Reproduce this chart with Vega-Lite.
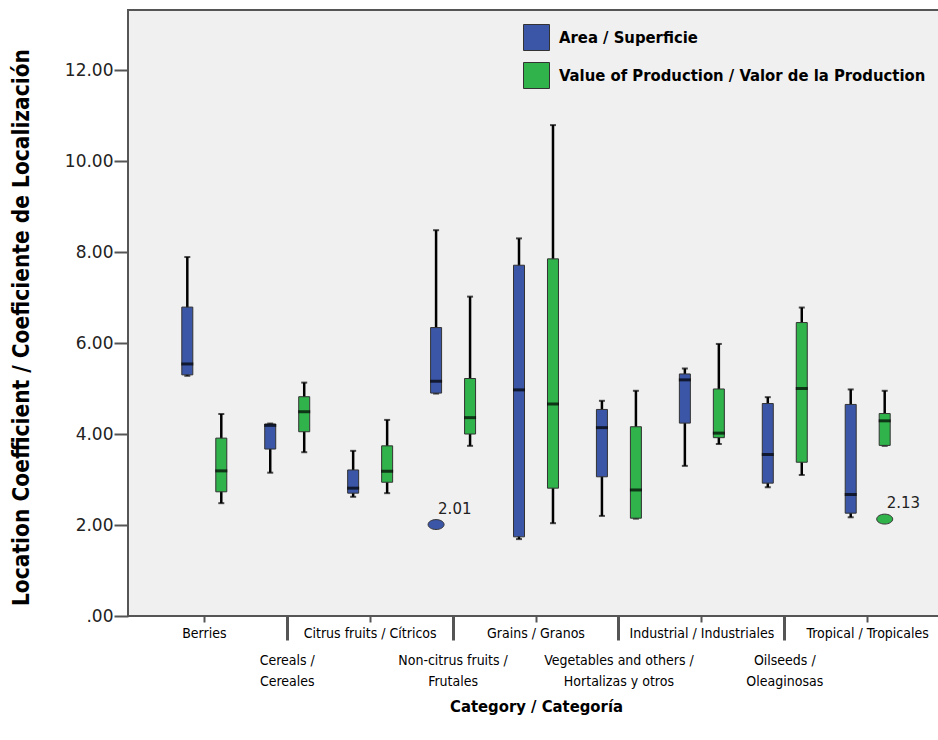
{
  "$schema": "https://vega.github.io/schema/vega-lite/v6.json",
  "width": 816,
  "height": 606,
  "autosize": {"type": "none"},
  "padding": {"left": 128, "top": 10, "right": 0, "bottom": 124},
  "background": "white",
  "config": {
    "view": {"fill": "#f0f0f0", "stroke": "#555555", "strokeWidth": 2},
    "font": "DejaVu Sans Condensed"
  },
  "datasets": {
    "boxes": [
      {"category": "Berries", "series": "Area / Superficie", "min": 5.28, "q1": 5.30, "median": 5.54, "q3": 6.79, "max": 7.89},
      {"category": "Berries", "series": "Value of Production / Valor de la Production", "min": 2.48, "q1": 2.73, "median": 3.19, "q3": 3.91, "max": 4.44},
      {"category": "Cereals / Cereales", "series": "Area / Superficie", "min": 3.15, "q1": 3.67, "median": 4.19, "q3": 4.22, "max": 4.23},
      {"category": "Cereals / Cereales", "series": "Value of Production / Valor de la Production", "min": 3.60, "q1": 4.05, "median": 4.49, "q3": 4.82, "max": 5.13},
      {"category": "Citrus fruits / Cítricos", "series": "Area / Superficie", "min": 2.62, "q1": 2.70, "median": 2.81, "q3": 3.21, "max": 3.63},
      {"category": "Citrus fruits / Cítricos", "series": "Value of Production / Valor de la Production", "min": 2.70, "q1": 2.94, "median": 3.18, "q3": 3.74, "max": 4.31},
      {"category": "Non-citrus fruits / Frutales", "series": "Area / Superficie", "min": 4.89, "q1": 4.90, "median": 5.16, "q3": 6.34, "max": 8.48},
      {"category": "Non-citrus fruits / Frutales", "series": "Value of Production / Valor de la Production", "min": 3.74, "q1": 4.00, "median": 4.36, "q3": 5.22, "max": 7.02},
      {"category": "Grains / Granos", "series": "Area / Superficie", "min": 1.69, "q1": 1.74, "median": 4.97, "q3": 7.71, "max": 8.30},
      {"category": "Grains / Granos", "series": "Value of Production / Valor de la Production", "min": 2.04, "q1": 2.81, "median": 4.66, "q3": 7.85, "max": 10.79},
      {"category": "Vegetables and others / Hortalizas y otros", "series": "Area / Superficie", "min": 2.20, "q1": 3.06, "median": 4.14, "q3": 4.54, "max": 4.73},
      {"category": "Vegetables and others / Hortalizas y otros", "series": "Value of Production / Valor de la Production", "min": 2.14, "q1": 2.15, "median": 2.77, "q3": 4.16, "max": 4.95},
      {"category": "Industrial / Industriales", "series": "Area / Superficie", "min": 3.30, "q1": 4.24, "median": 5.19, "q3": 5.32, "max": 5.44},
      {"category": "Industrial / Industriales", "series": "Value of Production / Valor de la Production", "min": 3.78, "q1": 3.92, "median": 4.02, "q3": 4.99, "max": 5.98},
      {"category": "Oilseeds / Oleaginosas", "series": "Area / Superficie", "min": 2.83, "q1": 2.92, "median": 3.55, "q3": 4.67, "max": 4.81},
      {"category": "Oilseeds / Oleaginosas", "series": "Value of Production / Valor de la Production", "min": 3.10, "q1": 3.38, "median": 5.00, "q3": 6.45, "max": 6.78},
      {"category": "Tropical / Tropicales", "series": "Area / Superficie", "min": 2.17, "q1": 2.26, "median": 2.67, "q3": 4.65, "max": 4.98},
      {"category": "Tropical / Tropicales", "series": "Value of Production / Valor de la Production", "min": 3.74, "q1": 3.75, "median": 4.29, "q3": 4.45, "max": 4.95}
    ],
    "outliers": [
      {"category": "Non-citrus fruits / Frutales", "series": "Area / Superficie", "value": 2.01, "label": "2.01"},
      {"category": "Tropical / Tropicales", "series": "Value of Production / Valor de la Production", "value": 2.13, "label": "2.13"}
    ]
  },
  "encoding": {
    "x": {
      "field": "category",
      "type": "nominal",
      "sort": ["Berries", "Cereals / Cereales", "Citrus fruits / Cítricos", "Non-citrus fruits / Frutales", "Grains / Granos", "Vegetables and others / Hortalizas y otros", "Industrial / Industriales", "Oilseeds / Oleaginosas", "Tropical / Tropicales"],
      "scale": {"paddingInner": 0, "paddingOuter": 0.42},
      "axis": {
        "title": "Category / Categoría",
        "titleFont": "DejaVu Sans Condensed",
        "titleFontSize": 16.5,
        "titleFontWeight": "bold",
        "titleColor": "#000000",
        "titlePadding": 10,
        "domain": false,
        "labelAngle": 0,
        "labelFont": "DejaVu Sans Condensed",
        "labelFontSize": 14,
        "labelColor": "#000000",
        "labelLineHeight": 21,
        "labelPadding": {"condition": {"test": "indexof(['Cereals / Cereales', 'Non-citrus fruits / Frutales', 'Vegetables and others / Hortalizas y otros', 'Oilseeds / Oleaginosas'], datum.value) >= 0", "value": 13}, "value": 4},
        "labelBaseline": "top",
        "labelExpr": "indexof(['Cereals / Cereales', 'Non-citrus fruits / Frutales', 'Vegetables and others / Hortalizas y otros', 'Oilseeds / Oleaginosas'], datum.label) >= 0 ? [split(datum.label, ' / ')[0] + ' /', split(datum.label, ' / ')[1]] : datum.label",
        "tickColor": "#555555",
        "tickSize": {"condition": {"test": "indexof(['Cereals / Cereales', 'Non-citrus fruits / Frutales', 'Vegetables and others / Hortalizas y otros', 'Oilseeds / Oleaginosas'], datum.value) >= 0", "value": 24}, "value": 6},
        "tickWidth": {"condition": {"test": "indexof(['Cereals / Cereales', 'Non-citrus fruits / Frutales', 'Vegetables and others / Hortalizas y otros', 'Oilseeds / Oleaginosas'], datum.value) >= 0", "value": 3}, "value": 2}
      }
    },
    "xOffset": {
      "field": "series",
      "type": "nominal",
      "sort": ["Area / Superficie", "Value of Production / Valor de la Production"],
      "scale": {"paddingInner": 0, "paddingOuter": 0.22}
    }
  },
  "layer": [
    {
      "data": {"name": "boxes"},
      "mark": {"type": "rule", "color": "#000000", "strokeWidth": 2.5},
      "encoding": {
        "y": {"field": "min", "type": "quantitative", "scale": {"domain": [0, 13.32], "nice": false, "zero": true},
          "axis": {
            "title": "Location Coefficient / Coeficiente de Localización",
            "titleFont": "DejaVu Sans Condensed",
            "titleFontSize": 22.5,
            "titleFontWeight": "bold",
            "titleColor": "#000000",
            "titleX": -107,
            "titleY": 317,
            "titleAlign": "center",
            "titleBaseline": "middle",
            "titleAngle": -90,
            "values": [0, 2, 4, 6, 8, 10, 12],
            "labelExpr": "datum.value == 0 ? '.00' : format(datum.value, '.2f')",
            "labelFont": "DejaVu Sans",
            "labelFontSize": 17,
            "labelColor": "#222222",
            "labelPadding": 1,
            "domain": false,
            "grid": false,
            "tickColor": "#555555",
            "tickSize": 14,
            "tickWidth": 2
          }
        },
        "y2": {"field": "max"}
      }
    },
    {
      "data": {"name": "boxes"},
      "mark": {"type": "tick", "color": "#000000", "size": 6, "thickness": 2, "orient": "horizontal"},
      "encoding": {"y": {"field": "min", "type": "quantitative"}}
    },
    {
      "data": {"name": "boxes"},
      "mark": {"type": "tick", "color": "#000000", "size": 6, "thickness": 2, "orient": "horizontal"},
      "encoding": {"y": {"field": "max", "type": "quantitative"}}
    },
    {
      "data": {"name": "boxes"},
      "mark": {"type": "bar", "size": 11, "stroke": "#333333", "strokeWidth": 1},
      "encoding": {
        "y": {"field": "q1", "type": "quantitative"},
        "y2": {"field": "q3"},
        "fill": {
          "field": "series",
          "type": "nominal",
          "scale": {"domain": ["Area / Superficie", "Value of Production / Valor de la Production"], "range": ["#3b56a6", "#2fb34a"]},
          "legend": {
            "title": null,
            "orient": "none",
            "legendX": 395,
            "legendY": 14,
            "symbolType": "square",
            "symbolSize": 676,
            "symbolStrokeColor": "#333333",
            "symbolStrokeWidth": 1,
            "symbolOpacity": 1,
            "labelFont": "DejaVu Sans Condensed",
            "labelFontSize": 16.5,
            "labelFontWeight": "bold",
            "labelColor": "#000000",
            "labelOffset": 9,
            "rowPadding": 7,
            "labelLimit": 500
          }
        }
      }
    },
    {
      "data": {"name": "boxes"},
      "mark": {"type": "tick", "color": "#000000", "size": 12, "thickness": 3, "orient": "horizontal"},
      "encoding": {"y": {"field": "median", "type": "quantitative"}}
    },
    {
      "data": {"name": "outliers"},
      "mark": {"type": "point", "shape": "M -1 0 A 1 0.62 0 1 1 1 0 A 1 0.62 0 1 1 -1 0 Z", "size": 256, "filled": true, "stroke": "#333333", "strokeWidth": 1, "opacity": 1},
      "encoding": {
        "y": {"field": "value", "type": "quantitative"},
        "fill": {"field": "series", "type": "nominal"}
      }
    },
    {
      "data": {"name": "outliers"},
      "mark": {"type": "text", "font": "DejaVu Sans", "fontSize": 15, "color": "#222222", "align": "left", "baseline": "middle", "dx": 2, "dy": -16},
      "encoding": {
        "y": {"field": "value", "type": "quantitative"},
        "text": {"field": "label"}
      }
    }
  ]
}
